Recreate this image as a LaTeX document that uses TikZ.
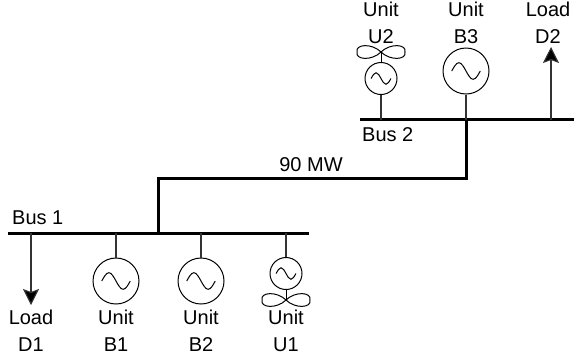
\documentclass[tikz,border=0pt]{standalone}
\usepackage{fontspec}
\setmainfont{Liberation Sans}
\usetikzlibrary{arrows.meta}

\tikzset{
    gen/.style={circle, draw=black, line width=1pt, minimum size=#1, inner sep=0pt,
        path picture={
            \draw[line width=1pt, shift={(path picture bounding box.center)}, x=#1*0.31, y=#1*0.36]
                (-1,0) sin (-0.5,0.5) cos (0,0) sin (0.5,-0.5) cos (1,0);
        }},
    gen/.default=46pt,
    busline/.style={line width=3pt},
    feeder/.style={line width=1.1pt, draw=black!80},
    load/.style={feeder, -{Stealth[length=16pt, width=16pt, inset=3pt, fill=black]}},
    lbl/.style={font=\fontsize{20}{20}\selectfont, inner sep=0pt, align=center},
}

\newcommand{\drawfan}[1]{
    \draw[line width=1pt, shift={(#1)}] (0,0) .. controls (9,-9) and (26,-8) .. (24,0)
        .. controls (26,8) and (9,9) .. (0,0)
        .. controls (-9,-9) and (-26,-8) .. (-24,0)
        .. controls (-26,8) and (-9,9) .. (0,0);
}

\begin{document}
\begin{tikzpicture}[x=1pt, y=-1pt]
\useasboundingbox (0,0) rectangle (577,357);

% buses
\coordinate (bus1w) at (8,233);
\coordinate (bus1e) at (309,233);
\coordinate (bus2w) at (360,119.5);
\coordinate (bus2e) at (574,119.5);
\coordinate (tie1) at (158,233);
\coordinate (tie2) at (466,119.5);
\coordinate (tiemid) at (158,178.5);
\draw[busline] (bus1w) -- (bus1e);
\draw[busline] (bus2w) -- (bus2e);
\draw[busline] (tie1) -- (tiemid) -| (tie2);

\node[lbl, anchor=west] (bus1) at (12,218) {Bus 1};
\node[lbl, anchor=west] (bus2) at (362,135) {Bus 2};
\node[lbl] (flow) at (311,165) {90 MW};

% lower units
\node[gen] (b1) at (116,281) {};
\node[gen] (b2) at (201,281) {};
\node[gen=32pt] (u1) at (286,273.5) {};
\coordinate (u1fan) at (286,300);
\drawfan{u1fan}
\draw[feeder] (b1) -- (b1 |- bus1w);
\draw[feeder] (b2) -- (b2 |- bus1w);
\draw[feeder] (u1) -- (u1 |- bus1w);
\draw[line width=1pt] (u1) -- (u1fan);
\coordinate (d1) at (31,233);
\coordinate (d1tip) at (31,305);
\draw[load] (d1) -- (d1tip);

\node[lbl] (d1txt) at (31,331) {Load\\[7pt]D1};
\node[lbl] (b1txt) at (116,331) {Unit\\[7pt]B1};
\node[lbl] (b2txt) at (201,331) {Unit\\[7pt]B2};
\node[lbl] (u1txt) at (286,331) {Unit\\[7pt]U1};

% upper units
\node[gen=32pt] (u2) at (381,78.5) {};
\coordinate (u2fan) at (381,52);
\drawfan{u2fan}
\node[gen] (b3) at (466,71) {};
\draw[feeder] (u2) -- (u2 |- bus2w);
\draw[feeder] (b3) -- (b3 |- bus2w);
\draw[line width=1pt] (u2) -- (u2fan);
\coordinate (d2) at (551,119.5);
\coordinate (d2tip) at (551,47);
\draw[load] (d2) -- (d2tip);

\node[lbl] (u2txt) at (381,23) {Unit\\[7pt]U2};
\node[lbl] (b3txt) at (466,23) {Unit\\[7pt]B3};
\node[lbl] (d2txt) at (548,23) {Load\\[7pt]D2};

\end{tikzpicture}
\end{document}
